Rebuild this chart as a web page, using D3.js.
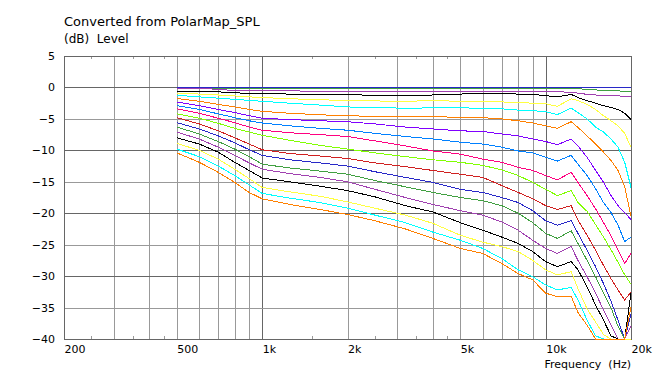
<!DOCTYPE html>
<html>
<head>
<meta charset="utf-8">
<script src="https://cdn.jsdelivr.net/npm/d3@7"></script>
<style>
  body { margin: 0; background: #fff; }
  text { font-family: "DejaVu Sans", Verdana, sans-serif; fill: #000; }
</style>
</head>
<body>
<div id="chart"></div>
<script>
// frequencies (Hz) at which the curves were read
var freqs = [500, 600, 700, 800, 900, 1000, 1250, 1600, 2000, 2500, 3200, 4000, 5000, 6000, 7000, 8000, 9000, 10000, 11000, 12300, 13000, 14000, 15000, 16000, 17000, 18000, 19000, 20000];

// levels in dB, one array per off-axis angle
var deg0  = [0,0,0,0,0,0,0,0,0,0,0,0,0,0,0,0,0,0,0,0,0,0,0,0,0,0,0,0];
var deg5  = [-0.15,-0.15,-0.15,-0.15,-0.15,-0.15,-0.15,-0.15,-0.15,-0.15,-0.15,-0.15,-0.15,-0.15,-0.15,-0.15,-0.15,-0.15,-0.15,-0.15,-0.2,-0.3,-0.4,-0.45,-0.5,-0.55,-0.6,-0.6];
var deg10 = [-0.1,-0.15,-0.3,-0.5,-0.5,-0.55,-0.55,-0.6,-0.6,-0.6,-0.65,-0.65,-0.65,-0.65,-0.65,-0.65,-0.65,-0.65,-0.7,-0.75,-0.9,-1.1,-1.2,-1.25,-1.3,-1.35,-1.4,-1.5];
var deg15 = [-0.6,-0.6,-0.7,-0.85,-0.95,-1.0,-1.05,-1.1,-1.1,-1.3,-1.3,-1.2,-1.05,-0.95,-1.0,-1.05,-1.1,-1.3,-1.5,-1.1,-1.6,-2.1,-2.5,-2.9,-3.2,-3.5,-4.1,-5.1];
var deg20 = [-0.9,-1.05,-1.2,-1.35,-1.5,-1.6,-1.8,-1.95,-2.1,-2.15,-2.2,-2.1,-2.2,-2.3,-2.3,-2.4,-2.5,-2.6,-3.0,-1.8,-2.1,-2.7,-3.5,-4.5,-5.3,-6.1,-7.3,-9.5];
var deg25 = [-1.25,-1.5,-1.7,-1.9,-2.05,-2.2,-2.5,-2.8,-3.1,-3.2,-3.3,-3.25,-3.25,-3.3,-3.4,-3.6,-3.7,-3.85,-4.3,-3.3,-4.0,-5.0,-6.3,-7.1,-8.2,-9.5,-11.9,-15.9];
var deg30 = [-1.75,-2.2,-2.7,-3.1,-3.5,-3.8,-4.1,-4.35,-4.5,-4.6,-4.65,-4.65,-4.75,-4.8,-5.0,-5.3,-5.65,-6.1,-6.5,-5.45,-6.35,-7.7,-9.0,-10.3,-11.6,-13.2,-15.8,-20.5];
var deg35 = [-2.3,-2.9,-3.5,-4.0,-4.5,-4.9,-5.1,-5.3,-5.45,-5.8,-6.3,-6.6,-6.9,-7.0,-7.4,-7.7,-8.2,-8.6,-9.1,-8.2,-9.3,-11.1,-13.2,-15.1,-17.2,-18.8,-19.9,-21.0];
var deg40 = [-2.9,-3.5,-4.2,-4.8,-5.3,-5.65,-6.1,-6.5,-6.8,-7.3,-7.8,-8.2,-8.7,-9.0,-9.5,-10.1,-10.4,-11.1,-11.7,-10.8,-12.2,-14.0,-16.1,-18.3,-19.9,-21.9,-24.5,-23.8];
var deg45 = [-3.4,-4.1,-4.9,-5.6,-6.3,-6.8,-7.2,-7.5,-7.8,-8.5,-9.3,-10.1,-10.6,-11.4,-11.9,-12.7,-13.2,-14.0,-14.7,-13.5,-15.1,-17.2,-19.3,-21.5,-23.6,-25.8,-28.0,-26.4];
var deg50 = [-4.2,-4.9,-5.7,-6.5,-7.1,-7.6,-8.4,-9.2,-9.8,-10.4,-11.0,-11.5,-11.9,-12.4,-13.1,-14.0,-15.1,-16.2,-17.2,-16.4,-18.3,-19.7,-21.8,-23.8,-25.8,-27.8,-29.8,-31.3];
var deg55 = [-4.8,-5.8,-6.9,-8.0,-9.0,-9.9,-10.5,-10.9,-11.3,-12.0,-12.6,-13.2,-13.8,-14.3,-15.6,-16.7,-17.7,-18.8,-19.4,-18.8,-21.1,-23.5,-25.9,-28.3,-30.4,-32.2,-33.8,-32.5];
var deg60 = [-5.6,-6.6,-7.7,-8.8,-9.9,-10.8,-11.5,-12.0,-12.5,-13.4,-14.3,-15.1,-16.2,-16.7,-17.5,-18.3,-19.6,-21.2,-21.9,-21.2,-23.2,-25.9,-28.5,-31.2,-34.0,-37.0,-40,-36.0];
var deg65 = [-6.3,-7.4,-8.6,-9.8,-11.0,-12.2,-12.8,-13.3,-13.8,-14.8,-15.8,-16.7,-17.5,-18.0,-18.8,-20.0,-21.5,-23.2,-24.0,-22.8,-24.8,-27.5,-30.1,-32.7,-35.0,-38.0,-40,-38.0];
var deg70 = [-7.1,-8.2,-9.5,-10.8,-12.0,-13.0,-13.7,-14.3,-15.0,-16.2,-17.5,-18.6,-19.6,-20.3,-21.4,-22.7,-24.3,-25.6,-26.4,-25.3,-27.5,-30.1,-32.7,-35.4,-37.8,-40,-40,-38.0];
var deg75 = [-8.0,-9.0,-10.3,-11.9,-13.2,-14.4,-15.0,-15.7,-16.4,-17.4,-18.8,-19.8,-21.5,-22.7,-23.8,-24.8,-26.1,-27.7,-28.5,-27.7,-29.0,-31.7,-34.6,-37.0,-39.5,-40,-40,-32.7];
var deg80 = [-8.9,-10.0,-11.4,-13.0,-14.5,-15.9,-16.6,-17.3,-18.2,-19.2,-20.3,-21.6,-23.5,-24.6,-25.3,-26.1,-27.5,-29.0,-29.8,-29.3,-32.0,-35.2,-37.3,-39.3,-40,-40,-40,-40];
var deg85 = [-9.8,-11.0,-12.5,-14.0,-15.5,-16.85,-17.6,-18.3,-19.2,-20.3,-21.5,-23.0,-24.3,-25.6,-27.2,-29.0,-30.1,-31.4,-32.2,-31.8,-33.8,-37.0,-39.5,-40,-40,-40,-40,-35.0];
var deg90 = [-10.4,-11.9,-13.5,-15.1,-16.7,-17.7,-18.6,-19.4,-20.2,-21.2,-22.5,-24.0,-25.6,-26.4,-28.0,-29.6,-30.6,-32.7,-33.3,-33.2,-35.8,-37.8,-40,-40,-40,-40,-40,-35.0];

var series = [deg0, deg5, deg10, deg15, deg20, deg25, deg30, deg35, deg40, deg45,
              deg50, deg55, deg60, deg65, deg70, deg75, deg80, deg85, deg90];
var palette = ["#2828c8", "#40a040", "#a040b0", "#000000", "#ffff40", "#00ffff",
               "#ff8000", "#8000ff", "#0080ff", "#ff0080", "#80ff00", "#d02020"];

var yTicks = [5, 0, -5, -10, -15, -20, -25, -30, -35, -40];
var xLabels = [200, 500, 1000, 2000, 5000, 10000, 20000];
var xGrid = [300, 400, 500, 600, 700, 800, 900, 1000, 2000, 3000, 4000, 5000, 6000, 7000, 8000, 9000, 10000];
var xMinor = [250, 350, 450, 1500, 2500, 3500, 4500];

var width = 654, height = 374;
var margin = { top: 56, right: 23, bottom: 35, left: 64 };

var svg = d3.select("#chart").append("svg")
  .attr("width", width).attr("height", height);

var x = d3.scaleLog().domain([200, 20000]).range([margin.left, width - margin.right]);
var y = d3.scaleLinear().domain([-40, 5]).range([height - margin.bottom, margin.top]);
var px = function(v) { return Math.round(v) + 0.5; };

// grid
var grid = svg.append("g").attr("shape-rendering", "crispEdges");
grid.selectAll(".vg").data(xGrid).enter().append("line")
  .attr("x1", function(d) { return px(x(d)); })
  .attr("x2", function(d) { return px(x(d)); })
  .attr("y1", y(5)).attr("y2", y(-40))
  .attr("stroke", function(d) { return (d == 1000 || d == 10000) ? "#666" : "#999"; });
grid.selectAll(".hg").data(yTicks).enter().append("line")
  .attr("x1", x(200)).attr("x2", x(20000))
  .attr("y1", function(d) { return px(y(d)); })
  .attr("y2", function(d) { return px(y(d)); })
  .attr("stroke", function(d) { return d % 10 == 0 ? "#666" : "#999"; });
grid.selectAll(".mt").data(xMinor).enter().append("line")
  .attr("x1", function(d) { return px(x(d)); })
  .attr("x2", function(d) { return px(x(d)); })
  .attr("y1", y(-40)).attr("y2", y(-40) - 3)
  .attr("stroke", "#999");
grid.selectAll(".mt2").data(xMinor).enter().append("line")
  .attr("x1", function(d) { return px(x(d)); })
  .attr("x2", function(d) { return px(x(d)); })
  .attr("y1", y(5)).attr("y2", y(5) + 3)
  .attr("stroke", "#999");
grid.append("rect")
  .attr("x", px(x(200))).attr("y", px(y(5)))
  .attr("width", Math.round(x(20000)) - Math.round(x(200)))
  .attr("height", Math.round(y(-40)) - Math.round(y(5)))
  .attr("fill", "none").attr("stroke", "#666");

// curves
svg.append("clipPath").attr("id", "clip").append("rect")
  .attr("x", x(200)).attr("y", y(5) - 1)
  .attr("width", x(20000) - x(200) + 1).attr("height", y(-40) - y(5) + 2);

var line = d3.line()
  .x(function(d, i) { return x(freqs[i]); })
  .y(function(d) { return y(Math.max(-40, d)); });

svg.append("g").attr("clip-path", "url(#clip)")
  .selectAll("path").data(series).enter().append("path")
  .attr("fill", "none")
  .attr("stroke", function(d, i) { return palette[i % palette.length]; })
  .attr("stroke-width", 1)
  .attr("shape-rendering", "crispEdges")
  .attr("d", line);

// axes
var axisY = d3.axisLeft(y).tickValues(yTicks).tickSize(0).tickPadding(9);
var gy = svg.append("g").attr("transform", "translate(" + margin.left + ",0)").call(axisY);
gy.select(".domain").remove();
gy.selectAll("text").attr("font-size", "11px").attr("font-family", "DejaVu Sans");

var fmt = function(d) { return d >= 1000 ? (d / 1000) + "k" : d; };
var axisX = d3.axisBottom(x).tickValues(xLabels).tickFormat(fmt).tickSize(0).tickPadding(6);
var gx = svg.append("g").attr("transform", "translate(0," + (height - margin.bottom) + ")").call(axisX);
gx.select(".domain").remove();
gx.selectAll("text").attr("text-anchor", "start").attr("font-size", "11px").attr("font-family", "DejaVu Sans");

svg.append("text").attr("x", x(20000)).attr("y", 368)
  .attr("text-anchor", "end").attr("font-size", "11px")
  .style("white-space", "pre").text("Frequency  (Hz)");

svg.append("text").attr("x", 64).attr("y", 26)
  .attr("font-size", "13px").text("Converted from PolarMap_SPL");
svg.append("text").attr("x", 64).attr("y", 43)
  .attr("font-size", "12px").style("white-space", "pre").text("(dB)  Level");
</script>
</body>
</html>
